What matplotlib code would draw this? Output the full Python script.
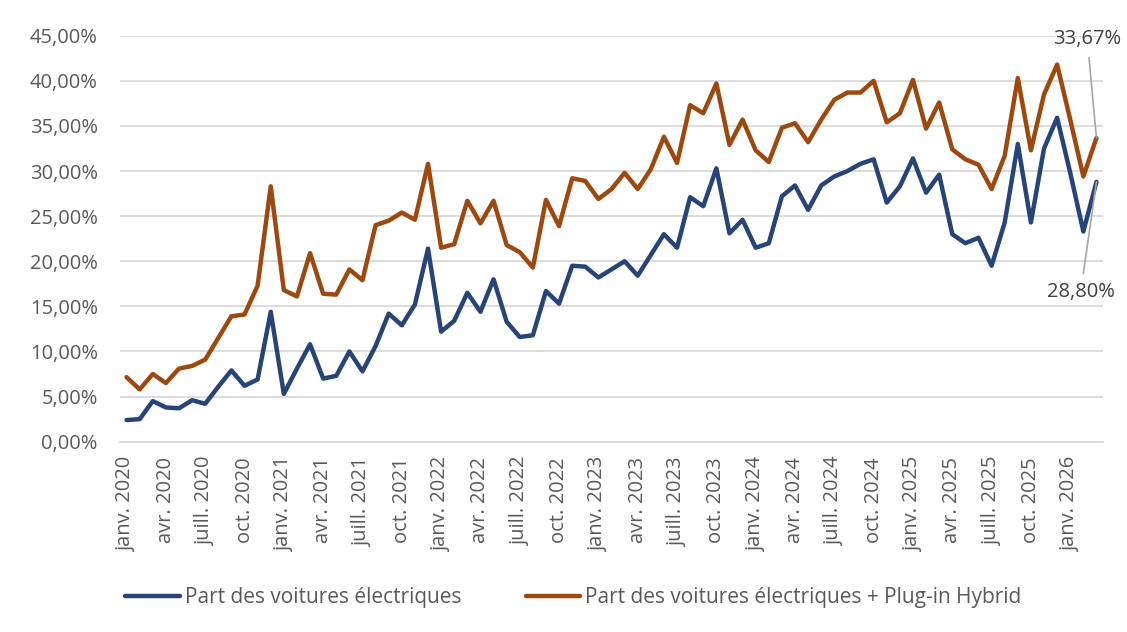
import matplotlib.pyplot as plt
from matplotlib.ticker import FuncFormatter

plt.rcParams['font.family'] = ['Open Sans', 'DejaVu Sans']

# Monthly series, janv. 2020 -> mars 2026 (values in %)
TICK_MONTHS = {0: 'janv.', 3: 'avr.', 6: 'juill.', 9: 'oct.'}
START_YEAR = 2020

electric = [
    2.4, 2.5, 4.5, 3.8, 3.7, 4.6, 4.2, 6.1, 7.9, 6.2,
    6.9, 14.4, 5.3, 8.1, 10.8, 7.0, 7.3, 10.0, 7.8, 10.6,
    14.2, 12.9, 15.2, 21.4, 12.2, 13.4, 16.5, 14.4, 18.0, 13.3,
    11.6, 11.8, 16.7, 15.3, 19.5, 19.4, 18.2, 19.1, 20.0, 18.4,
    20.7, 23.0, 21.5, 27.1, 26.1, 30.3, 23.1, 24.6, 21.5, 22.0,
    27.2, 28.4, 25.7, 28.4, 29.4, 30.0, 30.8, 31.3, 26.5, 28.3,
    31.4, 27.6, 29.6, 23.0, 22.0, 22.6, 19.5, 24.3, 33.0, 24.3,
    32.5, 35.9, 29.8, 23.3, 28.8,
]
electric_phev = [
    7.15, 5.8, 7.5, 6.5, 8.1, 8.4, 9.1, 11.5, 13.9, 14.1,
    17.3, 28.3, 16.8, 16.1, 20.9, 16.4, 16.3, 19.1, 17.9, 24.0,
    24.5, 25.4, 24.6, 30.8, 21.5, 21.9, 26.7, 24.2, 26.7, 21.8,
    21.0, 19.3, 26.8, 23.9, 29.2, 28.9, 26.9, 28.0, 29.8, 28.0,
    30.2, 33.8, 30.9, 37.3, 36.4, 39.7, 32.9, 35.7, 32.3, 31.0,
    34.8, 35.3, 33.2, 35.7, 37.9, 38.7, 38.7, 40.0, 35.4, 36.4,
    40.1, 34.7, 37.6, 32.4, 31.3, 30.7, 28.0, 31.7, 40.3, 32.3,
    38.5, 41.8, 35.7, 29.4, 33.67,
]

LABEL_EV = 'Part des voitures électriques'
LABEL_PHEV = 'Part des voitures électriques + Plug-in Hybrid'

BLUE = '#264478'
ORANGE = '#9E480E'
TEXT = '#595959'
GRID = '#d9d9d9'


def pct(v):
    return f'{v:.2f}'.replace('.', ',') + '%'


n = len(electric)
x = list(range(n))
tick_pos = [i for i in x if i % 3 == 0]
tick_lab = [f'{TICK_MONTHS[i % 12]} {START_YEAR + i // 12}' for i in tick_pos]

fig = plt.figure(figsize=(11.27, 6.32), dpi=100)
ax = fig.add_axes([120 / 1127, 1 - 441.7 / 632, 983 / 1127, 406 / 632])

ax.plot(x, electric, color=BLUE, lw=3.2, solid_joinstyle='round',
        solid_capstyle='round', label=LABEL_EV, zorder=3)
ax.plot(x, electric_phev, color=ORANGE, lw=3.2, solid_joinstyle='round',
        solid_capstyle='round', label=LABEL_PHEV, zorder=3)

ax.set_xlim(-0.5, n - 0.5)
ax.set_ylim(0, 45)
ax.set_yticks(range(0, 46, 5))
ax.yaxis.set_major_formatter(FuncFormatter(lambda v, p: pct(v)))
ax.set_xticks(tick_pos)
ax.set_xticklabels(tick_lab, rotation=90)

ax.grid(axis='y', color=GRID, lw=1.3, zorder=0)
for s in ['top', 'right', 'left']:
    ax.spines[s].set_visible(False)
ax.spines['bottom'].set_color(GRID)
ax.spines['bottom'].set_linewidth(1.3)
ax.tick_params(axis='both', length=0, labelcolor=TEXT, labelsize=14.5)
ax.tick_params(axis='y', pad=16)
ax.tick_params(axis='x', pad=11)

# data labels on the last month
ax.annotate(pct(electric_phev[-1]),
            xy=(n - 1, electric_phev[-1]), xytext=(73.3, 44.6),
            ha='center', va='center', fontsize=14.5, color='#404040',
            annotation_clip=False,
            arrowprops=dict(arrowstyle='-', color='#a6a6a6', lw=1.2,
                            shrinkA=4, shrinkB=0))
ax.annotate(pct(electric[-1]),
            xy=(n - 1, electric[-1]), xytext=(72.8, 16.6),
            ha='center', va='center', fontsize=14.5, color='#404040',
            annotation_clip=False,
            arrowprops=dict(arrowstyle='-', color='#a6a6a6', lw=1.2,
                            shrinkA=4, shrinkB=0))

fig.legend(loc='center', bbox_to_anchor=(573.5 / 1127, 1 - 598 / 632),
           ncol=2, frameon=False, fontsize=15, labelcolor=TEXT,
           handlelength=2.6, handletextpad=0.25, columnspacing=3.1,
           borderpad=0)

fig.savefig('out.png', dpi=100)
